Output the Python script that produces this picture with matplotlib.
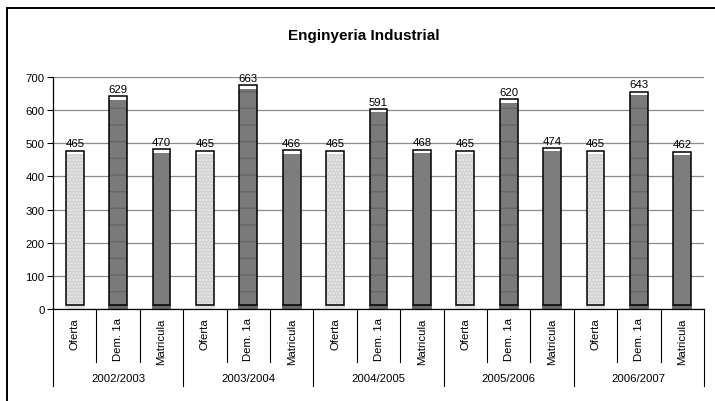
import matplotlib
matplotlib.use("Agg")
import matplotlib.pyplot as plt
from matplotlib.patches import Rectangle
from matplotlib.lines import Line2D

plt.rcParams['font.family'] = ['Liberation Sans', 'DejaVu Sans']

title = "Enginyeria Industrial"
years = ["2002/2003", "2003/2004", "2004/2005", "2005/2006", "2006/2007"]
categories = ["Oferta", "Dem. 1a", "Matricula"]
oferta = [465, 465, 465, 465, 465]
dem1a = [629, 663, 591, 620, 643]
matricula = [470, 466, 468, 474, 462]
y_ticks = [0, 100, 200, 300, 400, 500, 600, 700]

W, H = 715, 402
fig = plt.figure(figsize=(W / 100, H / 100), dpi=100)
fig.patch.set_facecolor('white')

# outer chart frame
fig.patches.append(Rectangle((7 / W, -0.05), 1.2, 1 - 9 / H + 0.05,
                             transform=fig.transFigure, fill=False,
                             edgecolor='black', linewidth=1.4, zorder=0))

ax = fig.add_axes([53 / W, 1 - 310 / H, (704 - 53) / W, (310 - 78) / H])
ax.set_xlim(0, 15)
ax.set_ylim(0, 700)
ax.set_yticks(y_ticks)
ax.tick_params(axis='y', labelsize=8.2, length=4, width=0.8, pad=2)
ax.grid(axis='y', color='#8c8c8c', linewidth=0.9)
ax.set_axisbelow(True)
for s in ['top', 'right']:
    ax.spines[s].set_visible(False)
ax.spines['left'].set_linewidth(0.9)
ax.spines['bottom'].set_linewidth(0.9)

styles = {
    "Oferta": dict(face='#d2d2d2', hatch='.....', hcol='#ececec', shadow='#e2e2e2'),
    "Dem. 1a": dict(face='#7a7a7a', hatch='-', hcol='#666666', shadow='#6a6a6a'),
    "Matricula": dict(face='#7d7d7d', hatch=None, hcol='#7d7d7d', shadow='#6a6a6a'),
}

series = {"Oferta": oferta, "Dem. 1a": dem1a, "Matricula": matricula}
offset = 13
cap = 11
bw = 0.41

xs, labels = [], []
for g, yr in enumerate(years):
    for c, cat in enumerate(categories):
        i = g * 3 + c
        x = i + 0.5
        xs.append(x)
        labels.append(cat)
        v = series[cat][g]
        st = styles[cat]
        # floor shadow
        ax.bar(x, offset, bottom=0, width=bw * 1.12, color=st['shadow'],
               linewidth=0, zorder=2)
        # body with texture
        ax.bar(x, v, bottom=offset, width=bw, color=st['face'],
               hatch=st['hatch'], edgecolor=st['hcol'], linewidth=0, zorder=3)
        # white top cap
        ax.bar(x, cap, bottom=v + offset - cap, width=bw, color='white',
               linewidth=0, zorder=4)
        # outline
        ax.bar(x, v, bottom=offset, width=bw, fill=False, edgecolor='black',
               linewidth=1.1, zorder=5)
        ax.annotate(str(v), (x, v + offset), xytext=(0, 1.5),
                    textcoords='offset points', ha='center', va='bottom',
                    fontsize=8.2, zorder=6)

ax.set_xticks(xs)
ax.set_xticklabels(labels, rotation=90, fontsize=8.2, va='top', ha='center')
ax.tick_params(axis='x', length=0, pad=6)

trans = ax.get_xaxis_transform()
ah = 310 - 78
short_y = -(363 - 310) / ah
long_y = -(387 - 310) / ah
group_y = -(379 - 310) / ah
for k in range(16):
    yend = long_y if k % 3 == 0 else short_y
    ax.add_line(Line2D([k, k], [0, yend], transform=trans, color='black',
                       linewidth=0.8, clip_on=False))
for g, yr in enumerate(years):
    ax.text(g * 3 + 1.5, group_y, yr, transform=trans, ha='center',
            va='center', fontsize=8.2)

fig.text(364 / W, 1 - 36 / H, title, ha='center', va='center',
         fontsize=11, fontweight='bold')

fig.savefig('out.png', dpi=100)
